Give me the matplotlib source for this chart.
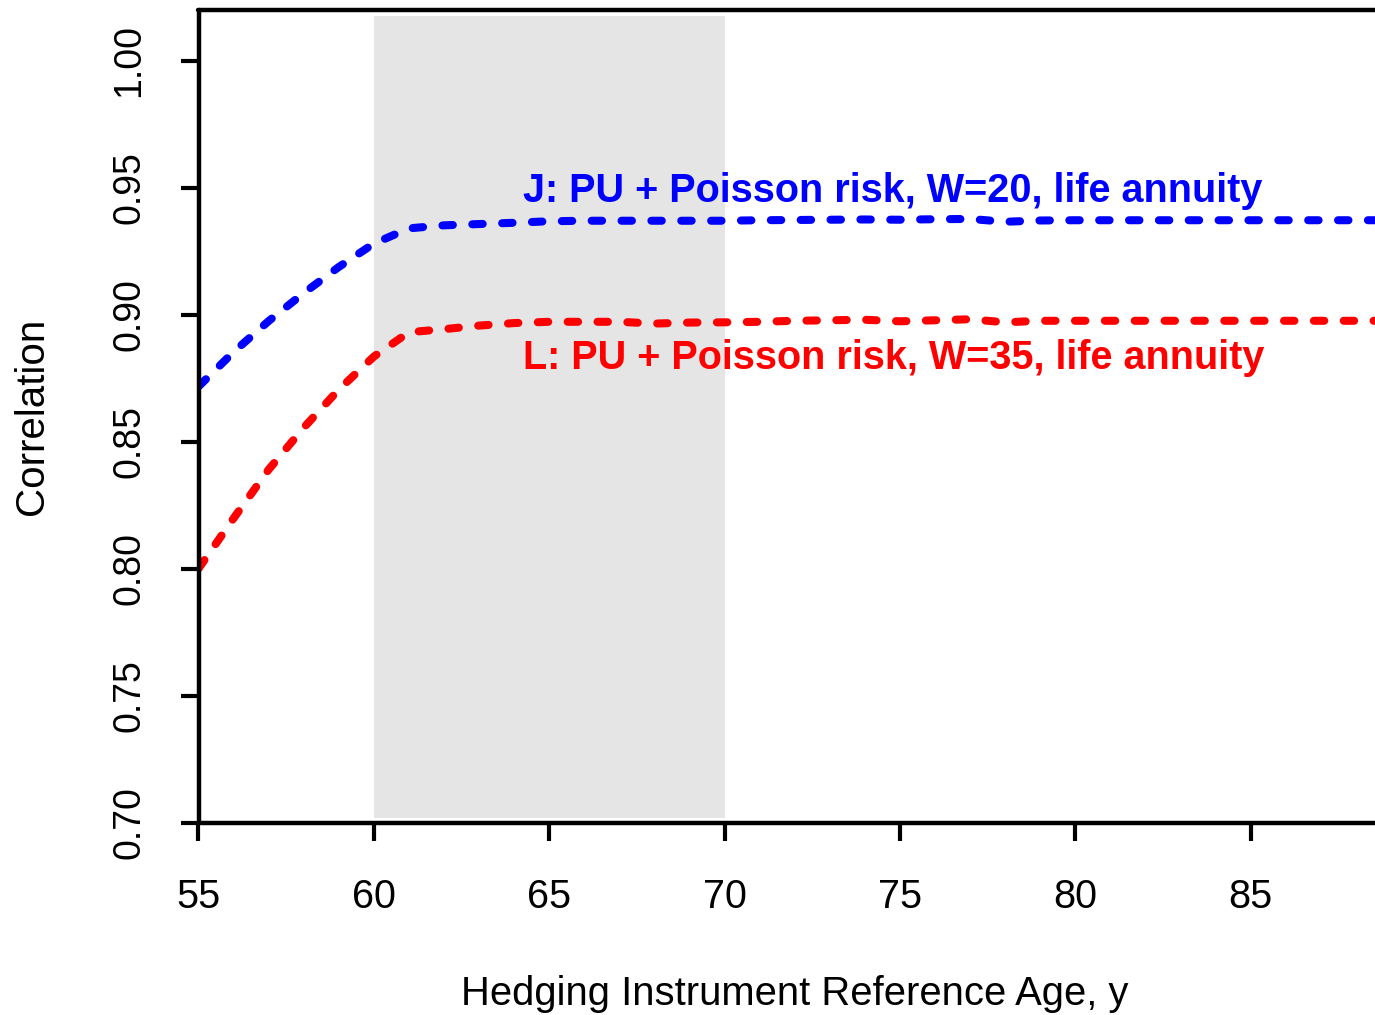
import matplotlib
matplotlib.use("Agg")
import matplotlib.pyplot as plt

plt.rcParams['font.family'] = ['Liberation Sans', 'DejaVu Sans']
plt.rcParams['lines.scale_dashes'] = False

ages = list(range(55, 90))
corr_J = [0.8717, 0.8853, 0.8975, 0.9085, 0.9188, 0.9280, 0.9340, 0.9352, 0.9357, 0.9362,
          0.9368, 0.9370, 0.9370, 0.9370, 0.9370, 0.9370, 0.9372, 0.9373, 0.9374, 0.9375,
          0.9374, 0.9376, 0.9377, 0.9366, 0.9371, 0.9372, 0.9372, 0.9372, 0.9372, 0.9372,
          0.9372, 0.9372, 0.9372, 0.9372, 0.9372]
corr_L = [0.8000, 0.8198, 0.8390, 0.8555, 0.8705, 0.8835, 0.8931, 0.8943, 0.8957, 0.8967,
          0.8972, 0.8972, 0.8972, 0.8965, 0.8969, 0.8970, 0.8972, 0.8976, 0.8978, 0.8980,
          0.8974, 0.8978, 0.8982, 0.8970, 0.8976, 0.8976, 0.8976, 0.8976, 0.8976, 0.8976,
          0.8976, 0.8976, 0.8976, 0.8976, 0.8976]
label_J = "J: PU + Poisson risk, W=20, life annuity"
label_L = "L: PU + Poisson risk, W=35, life annuity"
shade_start, shade_end = 60, 70
shade_low, shade_high = 0.7016, 1.0178
x_ticks = [55, 60, 65, 70, 75, 80, 85]
y_ticks = [0.70, 0.75, 0.80, 0.85, 0.90, 0.95, 1.00]
y_tick_labels = ["0.70", "0.75", "0.80", "0.85", "0.90", "0.95", "1.00"]

W, H = 1375, 1015
fig = plt.figure(figsize=(W / 100, H / 100), dpi=100)
left_px, right_px, bottom_px, top_px = 198.5, 1391, 822.5, 10
ax = fig.add_axes([left_px / W, 1 - bottom_px / H, (right_px - left_px) / W, (bottom_px - top_px) / H])
ax.set_xlim(55, 89)
ax.set_ylim(0.70, 1.02)

ax.fill_between([shade_start, shade_end], shade_low, shade_high, color='#E5E5E5', lw=0, zorder=1)

dash = (0, (7.5, 14.0))
ax.plot(ages, corr_J, color='#0000FF', lw=5.8, linestyle=dash, dash_capstyle='round', zorder=3)
ax.plot(ages, corr_L, color='#FF0000', lw=5.8, linestyle=dash, dash_capstyle='round', zorder=3)

ax.text(64.25, 0.9443, label_J, color='#0000FF', fontsize=28.5, fontweight='bold',
        ha='left', va='baseline', zorder=4)
ax.text(64.25, 0.8787, label_L, color='#FF0000', fontsize=28.5, fontweight='bold',
        ha='left', va='baseline', zorder=4)

for s in ['top', 'left', 'bottom', 'right']:
    ax.spines[s].set_linewidth(3.2)
    ax.spines[s].set_zorder(5)
    ax.spines[s].set_capstyle('round')

ax.set_xticks(x_ticks)
ax.set_xticklabels([str(v) for v in x_ticks])
ax.set_yticks(y_ticks)
ax.set_yticklabels(y_tick_labels, rotation=90, va='center')
ax.tick_params(axis='both', length=13, width=3, direction='out')
ax.tick_params(axis='x', pad=27, labelsize=28.5)
ax.tick_params(axis='y', pad=24, labelsize=27)

fig.text(795 / W, 1 - 1005 / H, "Hedging Instrument Reference Age, y", fontsize=28.8,
         ha='center', va='baseline')
fig.text(32 / W, 1 - 416.5 / H, "Correlation", fontsize=29, rotation=90,
         ha='center', va='center')

fig.savefig("out.png", dpi=100)
